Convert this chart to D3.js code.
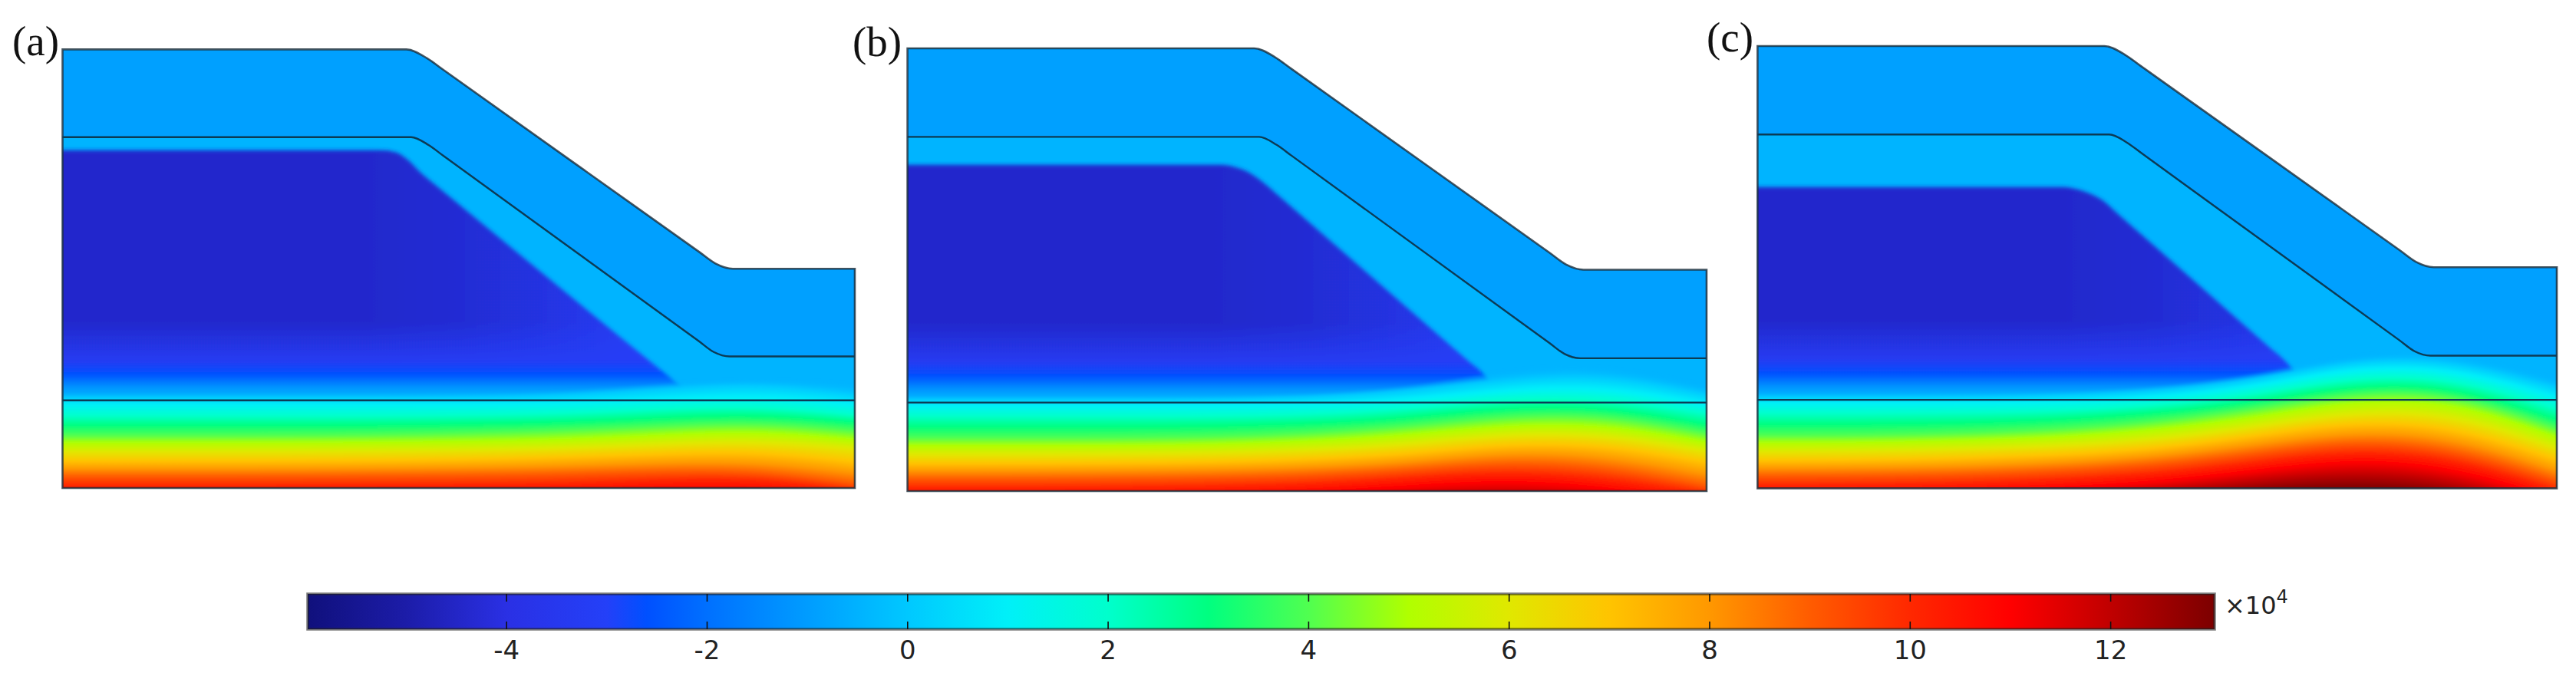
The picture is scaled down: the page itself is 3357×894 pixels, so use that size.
<!DOCTYPE html>
<html>
<head>
<meta charset="utf-8">
<title>Slope field</title>
<script src="https://cdnjs.cloudflare.com/ajax/libs/d3/7.8.5/d3.min.js"></script>
<style>
  html, body { margin: 0; background: #fff; }
  svg { display: block; }
</style>
</head>
<body>
<script>
// colour bar (values x10^4)
var cbarValues = [-5.98, -5, -4, -3, -2.6, -2, -1, 0, 1, 2, 3, 4, 5, 6, 7, 8, 9, 10, 11, 12, 13.04]
var cbarColors = ["#10107c", "#1c1ca8", "#2a30e4", "#2440f8", "#0050ff", "#0070ff", "#009cff", "#00c8ff",
                  "#00f0f8", "#00ffcc", "#00ff80", "#50ff50", "#b0ff00", "#e0e800", "#ffc400", "#ff9800",
                  "#ff5c00", "#ff2800", "#ff0000", "#c00000", "#7c0000"]
var cbarTicks = [-4, -2, 0, 2, 4, 6, 8, 10, 12]

// slope geometry, model units (0-100 both ways)
var surfaceX = [0, 43.4, 46.0, 48, 80.4, 82.4, 84.6, 100]
var surfaceY = [100, 100, 98, 95.43, 53.77, 51.2, 50, 50]
var layerX = [0, 44.0, 46.2, 48, 80.4, 82.2, 84.2, 100]
var layerY = [80, 80, 78.2, 75.84, 33.36, 31, 30, 30]
var foundationY = 20

// field values of the two upper layers and the saturated core
var topValue = -0.9
var midValue = -0.45
var coreValue = -4.4
var coreEdgeValue = -3.1

// core outline per panel
var coreAX = [-3, 40.2, 42, 43.6, 45.2, 47, 75, 76.9, 79]
var coreAY = [77, 77, 76.6, 74.8, 71.9, 69.2, 27.6, 24.8, 21]
var coreBX = [-3, 39.2, 41, 42.8, 44.8, 46.8, 70.1, 72.1, 74]
var coreBY = [73.7, 73.7, 73.2, 71.9, 69.3, 66.15, 29.45, 26.3, 21]
var coreCX = [-3, 38.2, 39.8, 41.5, 43.1, 45, 64.2, 66.2, 69]
var coreCY = [68.1, 68.1, 67.7, 66.7, 65.2, 62.2, 31.6, 28.4, 21]

// fade at the core foot: depth, value
var fadeDepth = [38, 29, 26, 23, 21]
var fadeValue = [-3.1, -3.1, -2.6, -1.2, -0.45]
var fadeAlpha = [0, 0.9, 1, 1, 1]

// core colour shift towards the toe: share of panel width, blend
var shiftAt = [38, 50, 62, 74]
var shiftAlpha = [0, 0.18, 0.55, 1]

// isolines of the lower field: height of each level at evenly spaced stations
var levels = [-0.5, 0, 1, 2, 3, 4, 5, 6, 7, 8, 9, 10, 11, 12, 12.9]
var isoA = [
  [21.5, 21.5, 21.5, 21.5, 21.5, 22, 24, 25.5, 24],
  [20.8, 20.8, 20.8, 20.8, 20.8, 21, 22.5, 24, 21.5],
  [19, 19, 19, 19, 19, 19.3, 20, 21, 19],
  [16.5, 16.5, 16.5, 16.5, 16.7, 17, 18, 18.8, 16.7],
  [14.3, 14.3, 14.3, 14.3, 14.6, 15, 16, 16.8, 15],
  [12, 12, 12, 12.1, 12.5, 13, 14, 15, 13],
  [10.3, 10.3, 10.3, 10.4, 10.6, 11, 12, 13, 11],
  [8.3, 8.3, 8.3, 8.4, 8.6, 9, 10, 10.8, 9],
  [6.2, 6.2, 6.2, 6.3, 6.5, 7, 7.8, 8.5, 6],
  [4.4, 4.4, 4.4, 4.5, 4.7, 5, 5.8, 6, 3.5],
  [2.7, 2.7, 2.7, 2.8, 2.9, 3.2, 3.8, 4, 1],
  [0.6, 0.6, 0.6, 0.7, 0.8, 1, 1.8, 2.2, -0.5],
  [-1.5, -1.5, -1.5, -1.4, -1.2, -1, -0.5, -0.2, -3],
  [-4, -4, -4, -4, -4, -4, -3, -3, -5],
  [-7, -7, -7, -7, -7, -7, -6, -6, -7]
]
var isoB = [
  [21.5, 21.5, 21.5, 21.5, 22, 23.5, 28, 29, 24],
  [20.8, 20.8, 20.8, 20.8, 21.2, 22.5, 25.5, 26.5, 22],
  [19.3, 19.3, 19.3, 19.3, 19.6, 20.5, 23, 23.5, 19.5],
  [17, 17, 17, 17, 17.4, 18.5, 21, 21, 17.5],
  [14.5, 14.5, 14.5, 14.7, 15.2, 16.5, 19, 19, 15],
  [12, 12, 12, 12.2, 13, 14.5, 17, 17.2, 13],
  [10.3, 10.3, 10.3, 10.5, 11.2, 12.6, 15, 15, 11],
  [8.3, 8.3, 8.4, 8.6, 9.2, 10.5, 13, 12.8, 9],
  [6.3, 6.3, 6.4, 6.6, 7.2, 8.4, 10.8, 10.5, 6.5],
  [4.6, 4.6, 4.7, 4.9, 5.4, 6.5, 8.8, 8, 3.8],
  [2.8, 2.8, 2.9, 3.1, 3.6, 4.8, 6.6, 5.5, 1.2],
  [0.8, 0.8, 0.9, 1.1, 1.6, 3, 4.5, 3, -0.5],
  [-1.2, -1.2, -1.1, -0.9, -0.4, 1, 2.4, 0.8, -3],
  [-3, -3, -3, -3, -2.5, -1, -0.3, -1.5, -5],
  [-6, -6, -6, -6, -5.5, -4, -3, -4, -7]
]
var isoC = [
  [21.5, 21.5, 21.5, 21.8, 23, 26, 31, 31, 25],
  [20.8, 20.8, 20.8, 21, 22, 24.5, 29.5, 29, 23],
  [19.3, 19.3, 19.3, 19.6, 20.5, 23, 27.5, 27, 20.5],
  [17, 17, 17.2, 17.5, 18.8, 21.3, 25.5, 25, 18],
  [14.5, 14.5, 14.8, 15.5, 17, 19.5, 23.5, 23, 15.5],
  [12, 12, 12.4, 13.2, 15, 18, 21.8, 21.5, 13.5],
  [10.3, 10.3, 10.8, 11.5, 13.2, 16, 20, 19.5, 11.5],
  [8.3, 8.4, 8.8, 9.6, 11, 14, 17.5, 16.8, 9],
  [6.3, 6.4, 6.8, 7.6, 9, 12, 15.3, 14, 6.5],
  [4.6, 4.7, 5, 5.8, 7.2, 10, 13, 11.5, 4],
  [2.8, 2.9, 3.2, 4, 5.4, 8, 11, 9, 1.8],
  [0.8, 0.9, 1.2, 2, 3.4, 6, 8.8, 6.8, -0.3],
  [-1.2, -1.1, -0.8, 0, 1.4, 4, 6.6, 4.5, -2.5],
  [-3, -3, -3, -2, -0.5, 1.8, 3.8, 1.8, -5],
  [-5, -5, -5, -4, -2.5, -0.3, 1, -0.8, -7]
]

var panelLabels = ["(a)", "(b)", "(c)"]

// page layout
var width = 3357
var height = 894
var panels = [
  {name: "a", label: panelLabels[0], left: 81.5, right: 1114, top: 64.4, bottom: 636, labelX: 16, labelY: 72, coreX: coreAX, coreY: coreAY, iso: isoA},
  {name: "b", label: panelLabels[1], left: 1182.6, right: 2224, top: 63, bottom: 640, labelX: 1111, labelY: 73, coreX: coreBX, coreY: coreBY, iso: isoB},
  {name: "c", label: panelLabels[2], left: 2290.4, right: 3332, top: 60, bottom: 636.4, labelX: 2224, labelY: 67, coreX: coreCX, coreY: coreCY, iso: isoC}
]
var bar = {left: 401, right: 2886, top: 774, bottom: 820}

var color = d3.scaleLinear().domain(cbarValues).range(cbarColors).clamp(true)

var svg = d3.select("body").append("svg")
  .attr("width", width)
  .attr("height", height)

var defs = svg.append("defs")
defs.append("filter").attr("id", "soft")
  .attr("x", "-5%").attr("y", "-5%").attr("width", "110%").attr("height", "110%")
  .append("feGaussianBlur").attr("stdDeviation", 2.5)
defs.append("filter").attr("id", "soft2")
  .attr("x", "-5%").attr("y", "-5%").attr("width", "110%").attr("height", "110%")
  .append("feGaussianBlur").attr("stdDeviation", 1.5)
defs.append("filter").attr("id", "lineSoft")
  .attr("filterUnits", "userSpaceOnUse")
  .attr("x", 0).attr("y", 0).attr("width", width).attr("height", height)
  .append("feGaussianBlur").attr("stdDeviation", 0.7)

function toPoints(xs, ys) {
  return xs.map(function(d, i) { return [d, ys[i]] })
}

panels.forEach(function(p) {
  var x = d3.scaleLinear().domain([0, 100]).range([p.left, p.right])
  var y = d3.scaleLinear().domain([0, 100]).range([p.bottom, p.top])

  var surfaceArea = d3.area().curve(d3.curveMonotoneX)
    .x(function(d) { return x(d[0]) }).y0(y(0)).y1(function(d) { return y(d[1]) })
  var midArea = d3.area().curve(d3.curveMonotoneX)
    .x(function(d) { return x(d[0]) }).y0(y(10)).y1(function(d) { return y(d[1]) })
  var coreArea = d3.area().curve(d3.curveMonotoneX)
    .x(function(d) { return x(d[0]) }).y0(y(foundationY)).y1(function(d) { return y(d[1]) })
  var lineGen = d3.line().curve(d3.curveMonotoneX)
    .x(function(d) { return x(d[0]) }).y(function(d) { return y(d[1]) })

  var surfacePts = toPoints(surfaceX, surfaceY)
  var layerPts = toPoints(layerX, layerY)
  var corePts = toPoints(p.coreX, p.coreY)

  defs.append("clipPath").attr("id", "clip-" + p.name)
    .append("path").attr("d", surfaceArea(surfacePts))

  // horizontal shift of the core colour towards the toe
  var hGrad = defs.append("linearGradient").attr("id", "coreH-" + p.name)
    .attr("gradientUnits", "userSpaceOnUse")
    .attr("x1", x(shiftAt[0])).attr("x2", x(shiftAt[shiftAt.length - 1])).attr("y1", 0).attr("y2", 0)
  var shiftT = d3.scaleLinear().domain([shiftAt[0], shiftAt[shiftAt.length - 1]]).range([0, 1])
  hGrad.selectAll("stop").data(shiftAt).enter().append("stop")
    .attr("offset", function(d) { return shiftT(d) })
    .attr("stop-color", color(coreEdgeValue))
    .attr("stop-opacity", function(d, i) { return shiftAlpha[i] })

  // fade at the foot of the core
  var vGrad = defs.append("linearGradient").attr("id", "coreV-" + p.name)
    .attr("gradientUnits", "userSpaceOnUse")
    .attr("x1", 0).attr("x2", 0).attr("y1", y(fadeDepth[0])).attr("y2", y(fadeDepth[fadeDepth.length - 1]))
  var fadeT = d3.scaleLinear().domain([fadeDepth[0], fadeDepth[fadeDepth.length - 1]]).range([0, 1])
  vGrad.selectAll("stop").data(fadeDepth).enter().append("stop")
    .attr("offset", function(d) { return fadeT(d) })
    .attr("stop-color", function(d, i) { return color(fadeValue[i]) })
    .attr("stop-opacity", function(d, i) { return fadeAlpha[i] })

  var g = svg.append("g").attr("class", "panel-" + p.name)
  var clipped = g.append("g").attr("clip-path", "url(#clip-" + p.name + ")")

  clipped.append("path").attr("d", surfaceArea(surfacePts)).attr("fill", color(topValue))
  clipped.append("path").attr("d", midArea(layerPts)).attr("fill", color(midValue))

  var coreG = clipped.append("g").attr("filter", "url(#soft)")
  coreG.append("path").attr("d", coreArea(corePts)).attr("fill", color(coreValue))
  coreG.append("path").attr("d", coreArea(corePts)).attr("fill", "url(#coreH-" + p.name + ")")
  coreG.append("path").attr("d", coreArea(corePts)).attr("fill", "url(#coreV-" + p.name + ")")

  // lower field: one vertical gradient per narrow column, stops sit on the isolines
  var stripW = 2
  var columns = d3.range(p.left - 4, p.right + 4, stripW)
  var curves = p.iso.map(function(r) { return d3.interpolateBasis(r) })
  var gradTop = y(45), gradBottom = y(-10)
  var offset = d3.scaleLinear().domain([gradTop, gradBottom]).range([0, 1])

  var grads = defs.selectAll("linearGradient.col-" + p.name).data(columns).enter().append("linearGradient")
    .attr("class", "col-" + p.name)
    .attr("id", function(d, i) { return "col-" + p.name + "-" + i })
    .attr("gradientUnits", "userSpaceOnUse")
    .attr("x1", 0).attr("x2", 0).attr("y1", gradTop).attr("y2", gradBottom)
  grads.each(function(px) {
    var t = Math.max(0, Math.min(1, (px - p.left) / (p.right - p.left)))
    var sel = d3.select(this)
    levels.forEach(function(lv, i) {
      sel.append("stop")
        .attr("offset", offset(y(curves[i](t))))
        .attr("stop-color", color(lv))
        .attr("stop-opacity", i == 0 ? 0 : 1)
    })
  })

  clipped.append("g").attr("filter", "url(#soft2)")
    .selectAll("rect").data(columns).enter().append("rect")
    .attr("x", function(d) { return d })
    .attr("y", gradTop)
    .attr("width", stripW)
    .attr("height", gradBottom - gradTop)
    .attr("shape-rendering", "crispEdges")
    .attr("fill", function(d, i) { return "url(#col-" + p.name + "-" + i + ")" })

  // boundaries
  var lines = g.append("g").attr("fill", "none").attr("filter", "url(#lineSoft)")
  lines.append("path").attr("d", surfaceArea(surfacePts))
    .attr("stroke", "#1c2c38").attr("stroke-opacity", 0.8).attr("stroke-width", 2.6)
  lines.append("path").attr("d", lineGen(layerPts))
    .attr("stroke", "#0a3a55").attr("stroke-width", 2.4)
  lines.append("path").attr("d", lineGen([[0, foundationY], [100, foundationY]]))
    .attr("stroke", "#0a3a55").attr("stroke-width", 2.4)

  g.append("text")
    .attr("x", p.labelX).attr("y", p.labelY)
    .attr("font-family", "'Liberation Serif', serif")
    .attr("font-size", 55)
    .attr("fill", "#111")
    .text(p.label)
})

// colour bar
var barScale = d3.scaleLinear().domain([cbarValues[0], cbarValues[cbarValues.length - 1]]).range([bar.left, bar.right])
var barGrad = defs.append("linearGradient").attr("id", "barGrad")
barGrad.selectAll("stop").data(cbarValues).enter().append("stop")
  .attr("offset", function(d) { return (barScale(d) - bar.left) / (bar.right - bar.left) })
  .attr("stop-color", function(d, i) { return cbarColors[i] })

var barG = svg.append("g").attr("class", "colorbar")
barG.append("rect")
  .attr("x", bar.left).attr("y", bar.top)
  .attr("width", bar.right - bar.left).attr("height", bar.bottom - bar.top)
  .attr("fill", "url(#barGrad)")
barG.append("rect")
  .attr("x", bar.left).attr("y", bar.top)
  .attr("width", bar.right - bar.left).attr("height", bar.bottom - bar.top)
  .attr("fill", "none").attr("stroke", "#222").attr("stroke-opacity", 0.6).attr("stroke-width", 3.5)
  .attr("filter", "url(#lineSoft)")

var axisB = d3.axisBottom(barScale).tickValues(cbarTicks).tickSize(-10).tickPadding(15)
  .tickFormat(function(d) { return String(d) })
var axisT = d3.axisTop(barScale).tickValues(cbarTicks).tickSize(-10).tickFormat("")

var ga = barG.append("g").attr("transform", "translate(0," + bar.bottom + ")").call(axisB)
var gt = barG.append("g").attr("transform", "translate(0," + bar.top + ")").call(axisT)
ga.select(".domain").remove()
gt.select(".domain").remove()
barG.selectAll(".tick line").attr("stroke", "#111").attr("stroke-width", 1.6)
ga.selectAll("text")
  .attr("font-family", "'DejaVu Sans', sans-serif")
  .attr("font-size", 34)
  .attr("fill", "#222")

var unit = barG.append("text")
  .attr("x", 2899).attr("y", 800)
  .attr("font-family", "'DejaVu Sans', sans-serif")
  .attr("font-size", 32)
  .attr("fill", "#222")
unit.append("tspan").text("×10")
unit.append("tspan").attr("font-size", 24).attr("dy", -14).text("4")
</script>
</body>
</html>
